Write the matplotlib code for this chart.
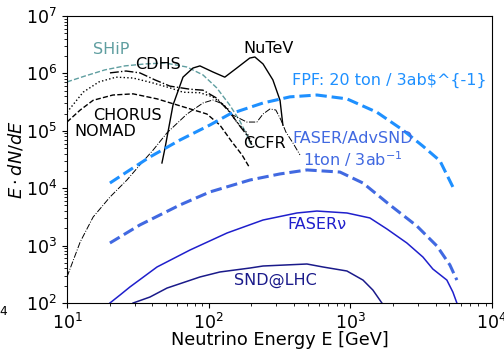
import matplotlib
matplotlib.use("Agg")
import matplotlib.pyplot as plt
import numpy as np

# neutrino energies [GeV] and E*dN/dE for each experiment
ship_E = [10, 13.4, 18.5, 25.6, 35.5, 49.2, 70.3, 91.2, 114, 141, 166, 186, 202]
ship_y = [7.1e5, 9.0e5, 1.15e6, 1.35e6, 1.46e6, 1.52e6, 1.29e6, 9.4e5, 5.6e5, 2.8e5, 1.48e5, 8.45e4, 5.2e4]

cdhs_E = [20.1, 26.1, 32.7, 41.8, 53.3, 73.8, 91.2, 114, 141, 166, 186, 202]
cdhs_y = [1.02e6, 1.1e6, 1.02e6, 7.7e5, 6.0e5, 5.3e5, 5.1e5, 3.7e5, 2.1e5, 1.21e5, 8.45e4, 5.7e4]

chorus_E = [10, 13.0, 16.8, 22.2, 29.3, 40.5, 53.3, 65.9, 86.8, 107, 135, 158, 186, 202]
chorus_y = [2.1e5, 4.7e5, 7.1e5, 8.6e5, 8.3e5, 6.8e5, 5.6e5, 4.7e5, 4.6e5, 3.9e5, 2.5e5, 1.42e5, 9.2e4, 6.1e4]

nomad_E = [10, 12.4, 15.3, 21.1, 29.3, 43.2, 70.3, 97.2, 120, 146, 172, 195]
nomad_y = [1.42e5, 2.3e5, 3.4e5, 4.2e5, 4.4e5, 3.6e5, 2.5e5, 1.96e5, 1.26e5, 6.4e4, 3.8e4, 2.25e4]

ccfr_E = [10, 12.4, 15.3, 20.1, 26.5, 32.7, 40.5, 50.8, 70.3, 91.2, 107, 126, 148,
          186, 219, 242, 271, 298, 324, 351, 394, 441]
ccfr_y = [284, 1.16e3, 3.15e3, 7.0e3, 1.39e4, 2.54e4, 4.6e4, 9.2e4, 1.96e5, 3.05e5, 3.44e5,
          2.93e5, 1.88e5, 1.42e5, 1.42e5, 1.96e5, 2.4e5, 2.3e5, 1.54e5, 9.5e4, 6.1e4, 3.8e4]

nutev_E = [46.8, 49.2, 56.0, 65.9, 77.5, 86.8, 107, 130, 158, 195, 212, 242, 284, 319, 334]
nutev_y = [2.75e4, 5.0e4, 2.8e5, 8.6e5, 1.24e6, 1.35e6, 1.06e6, 8.6e5, 1.24e6, 1.85e6,
           1.93e6, 1.46e6, 7.7e5, 3.4e5, 1.26e5]

fpf_E = [20.1, 27.8, 38.5, 62.7, 102, 141, 242, 375, 581, 946, 1542, 2350, 3254, 4290, 5295]
fpf_y = [1.23e4, 2.08e4, 3.5e4, 6.9e4, 1.26e5, 1.96e5, 3.05e5, 3.9e5, 4.2e5, 3.6e5,
         2.1e5, 1.03e5, 5.4e4, 3.0e4, 1.05e4]

advsnd_E = [20.1, 32.7, 62.7, 102, 196, 318, 494, 845, 1228, 1903, 2952, 4085, 5046, 5650]
advsnd_y = [1.11e3, 2.29e3, 5.1e3, 8.6e3, 1.39e4, 1.77e4, 2.08e4, 1.91e4, 1.23e4, 5.1e3,
            2.19e3, 984, 459, 251]

fasernu_E = [20.1, 23.7, 27.8, 43.2, 73.8, 135, 242, 420, 581, 946, 1374, 1811, 2507,
             3254, 3823, 4800, 5295, 5650]
fasernu_y = [100, 138, 190, 424, 837, 1.66e3, 2.79e3, 3.7e3, 4.0e3, 3.7e3, 3.03e3, 1.95e3,
             1.11e3, 632, 391, 251, 155, 100]

snd_E = [29.3, 38.5, 50.8, 86.8, 120, 196, 242, 494, 641, 946, 1228, 1443, 1670]
snd_y = [100, 127, 182, 284, 347, 407, 441, 478, 424, 361, 251, 168, 100]

fig = plt.figure(figsize=(5.04, 3.49), dpi=100)
ax = fig.add_axes([0.1329, 0.1318, 0.8433, 0.8224])

ax.plot(ship_E, ship_y, color="#5f9ea0", ls="--", lw=1.0)
ax.plot(cdhs_E, cdhs_y, color="k", ls="-.", lw=1.0)
ax.plot(chorus_E, chorus_y, color="k", ls=":", lw=1.0)
ax.plot(nomad_E, nomad_y, color="k", ls="--", lw=1.0)
ax.plot(ccfr_E, ccfr_y, color="k", ls="-.", lw=0.7)
ax.plot(nutev_E, nutev_y, color="k", ls="-", lw=1.0)

ax.plot(fpf_E, fpf_y, color="#1e90ff", ls="--", lw=2.2)
ax.plot(advsnd_E, advsnd_y, color="#4169e1", ls="--", lw=2.2)
ax.plot(fasernu_E, fasernu_y, color="#1f1fcc", ls="-", lw=1.1)
ax.plot(snd_E, snd_y, color="#1a1a8a", ls="-", lw=1.1)

fs = 11.5
ax.text(15.3, 2.56e6, "SHiP", color="#5f9ea0", fontsize=fs, va="center")
ax.text(30.2, 1.4e6, "CDHS", color="k", fontsize=fs, va="center")
ax.text(175, 2.66e6, "NuTeV", color="k", fontsize=fs, va="center")
ax.text(15.3, 1.88e5, "CHORUS", color="k", fontsize=fs, va="center")
ax.text(11.2, 9.9e4, "NOMAD", color="k", fontsize=fs, va="center")
ax.text(175, 6.1e4, "CCFR", color="k", fontsize=fs, va="center")
ax.text(387, 7.4e5, "FPF: 20 ton / 3ab$^{-1}", color="#1e90ff", fontsize=fs, va="center")
ax.text(1040, 4.6e4, "FASER/AdvSND\n1ton / 3ab$^{-1}$", color="#4169e1", fontsize=fs,
        va="center", ha="center", multialignment="center")
ax.text(357, 2.29e3, "FASERν", color="#1f1fcc", fontsize=fs, va="center")
ax.text(151, 251, "SND@LHC", color="#1a1a8a", fontsize=fs, va="center")

ax.set_xscale("log")
ax.set_yscale("log")
ax.set_xlim(10, 1e4)
ax.set_ylim(1e2, 1e7)
ax.tick_params(labelsize=12.5)
ax.set_xlabel("Neutrino Energy E [GeV]", fontsize=12.8)
ax.set_ylabel(r"$E\cdot dN/dE$", fontsize=12.8)
ax.yaxis.set_label_coords(-0.098, 0.5)
ax.xaxis.set_label_coords(0.5, -0.098)

# edge of the neighbouring panel's tick label
fig.text(0.016, 0.122, "$10^4$", fontsize=12.5, ha="right", va="top")

fig.savefig("out.png", dpi=100)
